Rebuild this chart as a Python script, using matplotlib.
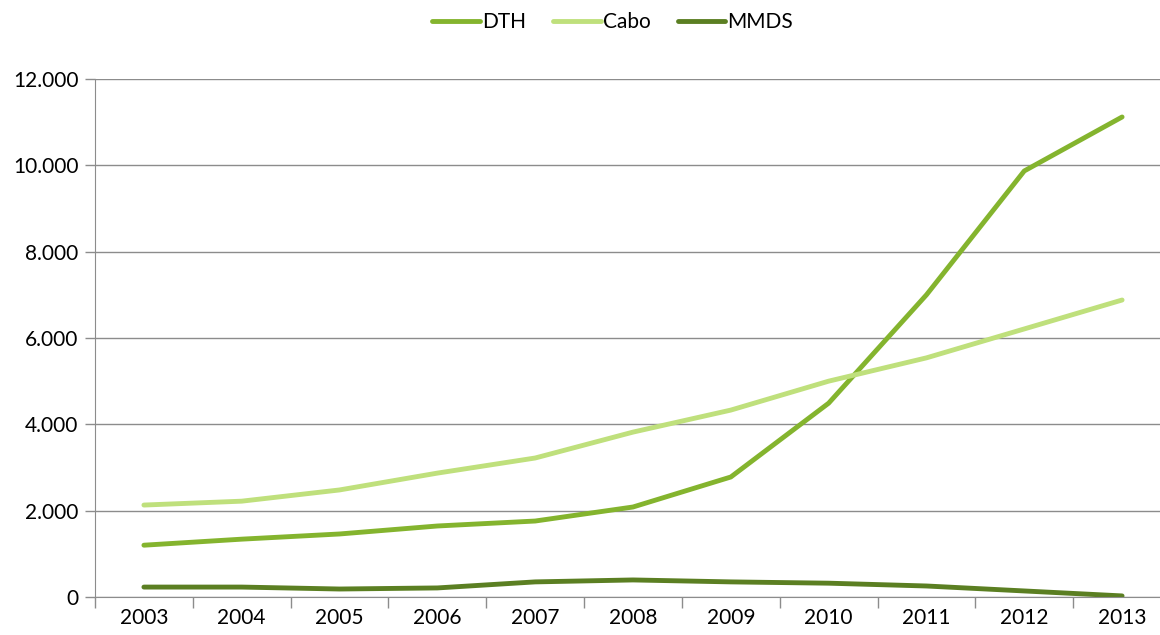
import matplotlib.pyplot as plt
from matplotlib.ticker import FuncFormatter, FixedLocator

anos = ["2003", "2004", "2005", "2006", "2007", "2008", "2009", "2010", "2011", "2012", "2013"]
dth = [1200, 1340, 1460, 1645, 1760, 2085, 2780, 4490, 7000, 9870, 11120]
cabo = [2130, 2220, 2480, 2870, 3220, 3820, 4330, 5000, 5540, 6210, 6880]
mmds = [230, 230, 185, 210, 350, 395, 350, 320, 255, 140, 25]

plt.rcParams["font.family"] = ["Lato", "DejaVu Sans"]

fig = plt.figure(figsize=(11.6, 6.35), dpi=100)
# eixo um pouco além da borda direita, como no original
ax = fig.add_axes([95 / 1160, 1 - 597 / 635, (1171 - 95) / 1160, (597 - 79) / 635])

x = list(range(len(anos)))
ax.plot(x, dth, color="#84b42e", lw=3.5, label="DTH", solid_capstyle="round")
ax.plot(x, cabo, color="#bfe07c", lw=3.5, label="Cabo", solid_capstyle="round")
ax.plot(x, mmds, color="#5b7f22", lw=3.5, label="MMDS", solid_capstyle="round")

ax.set_xlim(-0.5, len(anos) - 0.5)
ax.set_ylim(0, 12000)
ax.set_yticks(range(0, 12001, 2000))
ax.yaxis.set_major_formatter(FuncFormatter(lambda v, p: f"{int(v):,}".replace(",", ".")))
ax.yaxis.grid(True, color="#8c8c8c", lw=1)
ax.set_axisbelow(True)

# ticks entre categorias, rótulos no centro
ax.xaxis.set_major_locator(FixedLocator([i - 0.5 for i in range(len(anos) + 1)]))
ax.xaxis.set_minor_locator(FixedLocator(x))
ax.set_xticklabels([])
ax.set_xticklabels(anos, minor=True)
ax.tick_params(axis="x", which="major", length=8, color="#8c8c8c", width=1)
ax.tick_params(axis="x", which="minor", length=0, pad=8, labelsize=15)
ax.tick_params(axis="y", length=7, color="#8c8c8c", width=1, pad=5, labelsize=15)

for s in ["top", "right"]:
    ax.spines[s].set_visible(False)
ax.spines["left"].set_color("#8c8c8c")
ax.spines["bottom"].set_color("#8c8c8c")

fig.legend(loc="upper center", bbox_to_anchor=(0.528, 1.01), ncol=3, frameon=False,
           fontsize=15, handlelength=2.3, handletextpad=0.1, columnspacing=1.3)

fig.savefig("out.png", dpi=100)
